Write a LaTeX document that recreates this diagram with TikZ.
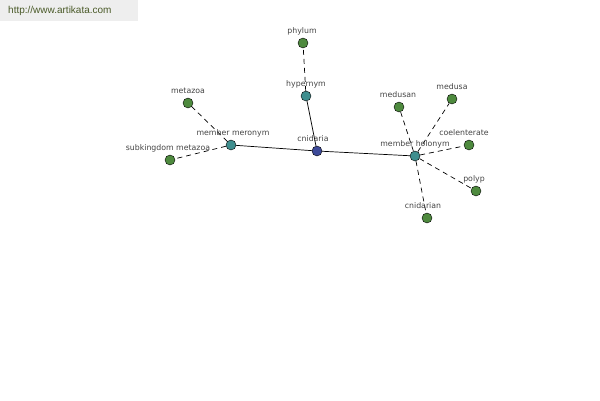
\documentclass[tikz,border=0pt]{standalone}
\usepackage{fontspec}
\setmainfont{Liberation Sans}
\newfontfamily\labfont{DejaVu Sans}
\definecolor{leaf}{HTML}{4E8A3E}
\definecolor{rel}{HTML}{3F8E8E}
\definecolor{root}{HTML}{3D4A99}
\definecolor{hdrbg}{HTML}{EEEEEE}
\definecolor{hdrtx}{HTML}{4A5A28}
\definecolor{lbl}{HTML}{444444}
\begin{document}
\begin{tikzpicture}[x=1pt,y=-1pt,
  dot/.style={circle,draw=black,line width=0.4pt,minimum size=10pt,inner sep=0pt},
  leafdot/.style={dot,fill=leaf},
  reldot/.style={dot,fill=rel},
  rootdot/.style={dot,fill=root},
  lab/.style={font=\labfont\fontsize{7.8}{8}\selectfont,text=lbl,inner sep=0pt},
  solidlink/.style={draw=black,line width=0.7pt},
  dashlink/.style={draw=black,line width=0.7pt,dash pattern=on 5pt off 4pt}]
\useasboundingbox (0,0) rectangle (600,400);
\fill[hdrbg] (0,0) rectangle (138,21);
\node[font=\fontsize{10}{11}\selectfont,text=hdrtx,anchor=west,inner sep=0pt] (hdr) at (8,11) {http://www.artikata.com};

\node[rootdot] (cn) at (317,151) {};
\node[reldot] (hyp) at (306,96) {};
\node[leafdot] (phy) at (303,43) {};
\node[reldot] (mm) at (231,145) {};
\node[leafdot] (met) at (188,103) {};
\node[leafdot] (sub) at (170,160) {};
\node[reldot] (mh) at (415,156) {};
\node[leafdot] (msn) at (399,107) {};
\node[leafdot] (msa) at (452,99) {};
\node[leafdot] (coe) at (469,145) {};
\node[leafdot] (pol) at (476,191) {};
\node[leafdot] (cnr) at (427,218) {};

\draw[solidlink] (cn) -- (hyp);
\draw[solidlink] (cn) -- (mm);
\draw[solidlink] (cn) -- (mh);
\draw[dashlink] (hyp) -- (phy);
\draw[dashlink] (mm) -- (met);
\draw[dashlink] (mm) -- (sub);
\draw[dashlink] (mh) -- (msn);
\draw[dashlink] (mh) -- (msa);
\draw[dashlink] (mh) -- (coe);
\draw[dashlink] (mh) -- (pol);
\draw[dashlink] (mh) -- (cnr);

\node[lab] (lcn) at (313,139) {cnidaria};
\node[lab] (lhyp) at (306,84) {hypernym};
\node[lab] (lphy) at (302,31) {phylum};
\node[lab] (lmm) at (233,133) {member meronym};
\node[lab] (lmet) at (188,91) {metazoa};
\node[lab] (lsub) at (168,148) {subkingdom metazoa};
\node[lab] (lmh) at (415,144) {member holonym};
\node[lab] (lmsn) at (398,95) {medusan};
\node[lab] (lmsa) at (452,87) {medusa};
\node[lab] (lcoe) at (464,133) {coelenterate};
\node[lab] (lpol) at (474,179) {polyp};
\node[lab] (lcnr) at (423,206) {cnidarian};
\end{tikzpicture}
\end{document}
